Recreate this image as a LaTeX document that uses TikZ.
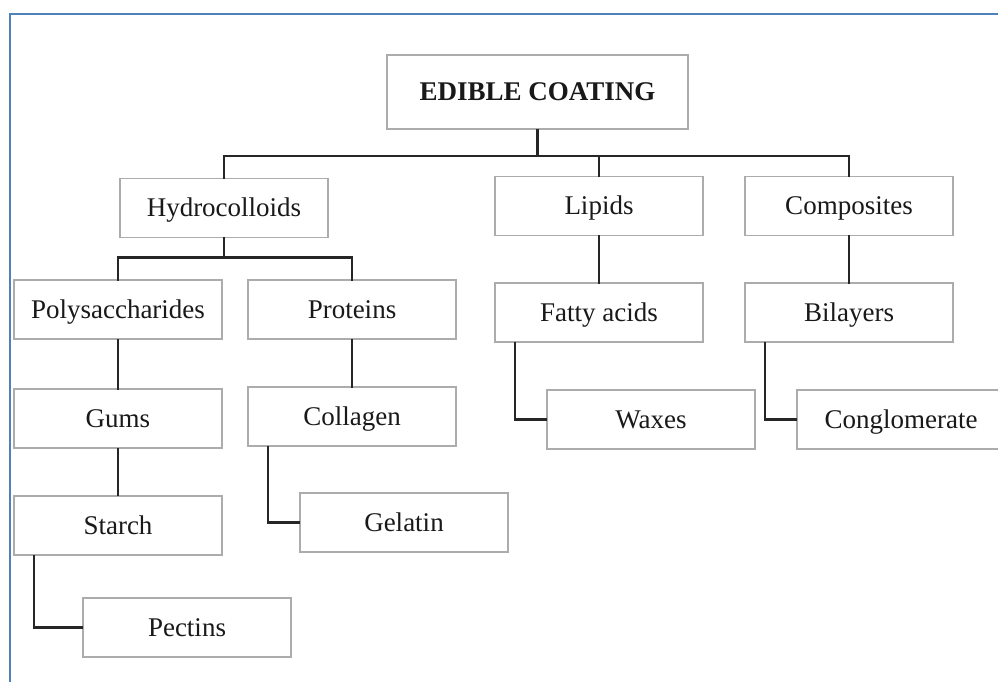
\documentclass[tikz,border=0pt]{standalone}
\usepackage{fontspec}
\setmainfont{Liberation Serif}
\usepackage{xcolor}
\usetikzlibrary{positioning, calc}
\definecolor{frameblue}{RGB}{79,129,189}

\begin{document}
\begin{tikzpicture}[
x=0.5pt, y=-0.5pt,
node distance = 23pt and 23pt,
    box/.style = {rectangle, draw=gray!65, line width=0.9pt, fill=white,
        minimum height=29.5pt, minimum width=104pt, inner sep=0pt, align=center,
        text height=11pt, text depth=2.1pt,
        text=black!90, font=\fontsize{13.5}{15}\selectfont},
    rootbox/.style = {box, minimum height=37pt, minimum width=150.5pt,
        font=\fontsize{13.5}{15}\selectfont\bfseries},
    link/.style={line width=1.3pt, black!85, line cap=rect},
]
\useasboundingbox (0,0) rectangle (998,682);
\draw[line width=1pt, frameblue] (10,682) -- (10,13.5) -- (998,13.5);

\node[rootbox] (Edible) at (537.5,92) {EDIBLE COATING};

\node[box] (Hydro)  at (224,208) {Hydrocolloids};
\node[box] (Lipids) at (599,206) {Lipids};
\node[box] (Comp)   at (849,206) {Composites};

\node[box] (Poly)     [below=20.5pt of Hydro, xshift=-53pt] {Polysaccharides};
\node[box] (Prot)     [below=20.5pt of Hydro, xshift=64pt]  {Proteins};
\node[box] (Gums)     [below=24pt of Poly]   {Gums};
\node[box] (Starch)   [below=of Gums]   {Starch};
\node[box] (Pectins)  [below=20.5pt of Starch, xshift=34.5pt] {Pectins};
\node[box] (Collagen) [below=of Prot]   {Collagen};
\node[box] (Gelatin)  [below=22.5pt of Collagen, xshift=26pt] {Gelatin};
\node[box] (Fatty)    [below=of Lipids] {Fatty acids};
\node[box] (Waxes)    [below=of Fatty, xshift=26pt] {Waxes};
\node[box] (Bilayers) [below=of Comp]   {Bilayers};
\node[box] (Conglo)   [below=of Bilayers, xshift=26pt] {Conglomerate};

% top level branches
\draw[link] (Edible.south) -- ++(0,26) coordinate (bus);
\foreach \n in {Hydro, Lipids, Comp}
    \draw[link] (bus) -| (\n.north);

\draw[link] (Hydro.south) -- ++(0,19) coordinate (hbus);
\foreach \n in {Poly, Prot}
    \draw[link] (hbus) -| (\n.north);

% straight chains
\draw[link] (Poly.south) -- (Gums.north);
\draw[link] (Gums.south) -- (Starch.north);
\draw[link] (Prot.south) -- (Collagen.north);
\draw[link] (Lipids.south) -- (Fatty.north);
\draw[link] (Comp.south) -- (Bilayers.north);

% elbow links
\draw[link] ([xshift=10.5pt]Starch.south west) |- (Pectins.west);
\draw[link] ([xshift=10.5pt]Collagen.south west) |- (Gelatin.west);
\draw[link] ([xshift=10.5pt]Fatty.south west) |- (Waxes.west);
\draw[link] ([xshift=10.5pt]Bilayers.south west) |- (Conglo.west);

\end{tikzpicture}
\end{document}
